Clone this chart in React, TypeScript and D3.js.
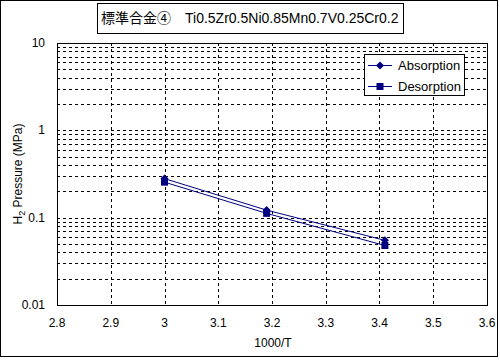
import React from "react";
import * as d3 from "d3";

const xValues = [3.0, 3.19, 3.41];
const absorption = [0.28, 0.122, 0.055];
const desorption = [0.255, 0.112, 0.048];
const xTicks = [2.8, 2.9, 3.0, 3.1, 3.2, 3.3, 3.4, 3.5, 3.6];
const yTicks = [0.01, 0.1, 1, 10];
const yTickLabels = ["0.01", "0.1", "1", "10"];
const title = "標準合金④　Ti0.5Zr0.5Ni0.85Mn0.7V0.25Cr0.2";
const seriesNames = ["Absorption", "Desorption"];

const W = 500, H = 360;
const L = 57, R = 487, T = 43, B = 305;
const color = "#000080";
const font = "'Liberation Sans', Arial, sans-serif";
const diamond = "M0,-4L4,0L0,4L-4,0Z";
const square = "M-3.5,-3.5H3.5V3.5H-3.5Z";

export default function App() {
  const x = d3.scaleLinear().domain([2.8, 3.6]).range([L, R]);
  const y = d3.scaleLog().domain([0.01, 10]).range([B, T]);
  const minor: number[] = [];
  for (let e = -2; e < 1; e++) {
    for (let k = 2; k <= 9; k++) minor.push(k * Math.pow(10, e));
  }
  const hLines = [...minor, 0.1, 1];
  const line = d3.line<number>().x((_, i) => x(xValues[i])).y((d) => y(d));
  return (
    <svg width={W} height={H} style={{ position: "absolute", left: 0, top: 0 }} fontFamily={font}>
      <rect x={0.5} y={0.5} width={W - 3} height={H - 4} fill="#fff" stroke="#000" />
      <rect x={97.5} y={3.5} width={306} height={30} fill="#fff" stroke="#000" />
      <text x={101} y={23} fontSize={14} textAnchor="start" fontFamily={`${font}, 'Noto Sans CJK JP'`}>{title}</text>
      {hLines.map((v, i) => (
        <line key={"h" + i} x1={L} x2={R} y1={Math.round(y(v)) + 0.5} y2={Math.round(y(v)) + 0.5} stroke="#000" strokeDasharray="3,3" />
      ))}
      {xTicks.slice(1, -1).map((v, i) => (
        <line key={"v" + i} x1={Math.round(x(v)) + 0.5} x2={Math.round(x(v)) + 0.5} y1={T} y2={B} stroke="#000" strokeDasharray="3,3" />
      ))}
      <rect x={L + 0.5} y={T + 0.5} width={R - L} height={B - T} fill="none" stroke="#000" />
      {yTicks.map((v, i) => (
        <text key={"yt" + i} x={45} y={y(v) + 4} fontSize={12} textAnchor="end">{yTickLabels[i]}</text>
      ))}
      {xTicks.map((v, i) => (
        <text key={"xt" + i} x={x(v)} y={327} fontSize={12} textAnchor="middle">{String(v)}</text>
      ))}
      <text x={273} y={347} fontSize={12} textAnchor="middle">1000/T</text>
      <text transform={`translate(22,${(T + B) / 2}) rotate(-90)`} fontSize={12} textAnchor="middle">
        H<tspan fontSize={9} dy={3}>2</tspan><tspan dy={-3}> Pressure (MPa)</tspan>
      </text>
      <path d={line(absorption) || ""} fill="none" stroke={color} strokeWidth={1} />
      <path d={line(desorption) || ""} fill="none" stroke={color} strokeWidth={1} />
      {absorption.map((v, i) => (
        <path key={"a" + i} d={diamond} transform={`translate(${x(xValues[i])},${y(v)})`} fill={color} />
      ))}
      {desorption.map((v, i) => (
        <path key={"d" + i} d={square} transform={`translate(${x(xValues[i])},${y(v)})`} fill={color} />
      ))}
      <rect x={364.5} y={54.5} width={100} height={41} fill="#fff" stroke="#000" />
      <line x1={368} x2={392} y1={65.5} y2={65.5} stroke={color} />
      <path d={diamond} transform="translate(380,65.5)" fill={color} />
      <text x={398} y={70} fontSize={13}>{seriesNames[0]}</text>
      <line x1={368} x2={392} y1={86.5} y2={86.5} stroke={color} />
      <path d={square} transform="translate(380,86.5)" fill={color} />
      <text x={398} y={91} fontSize={13}>{seriesNames[1]}</text>
    </svg>
  );
}
